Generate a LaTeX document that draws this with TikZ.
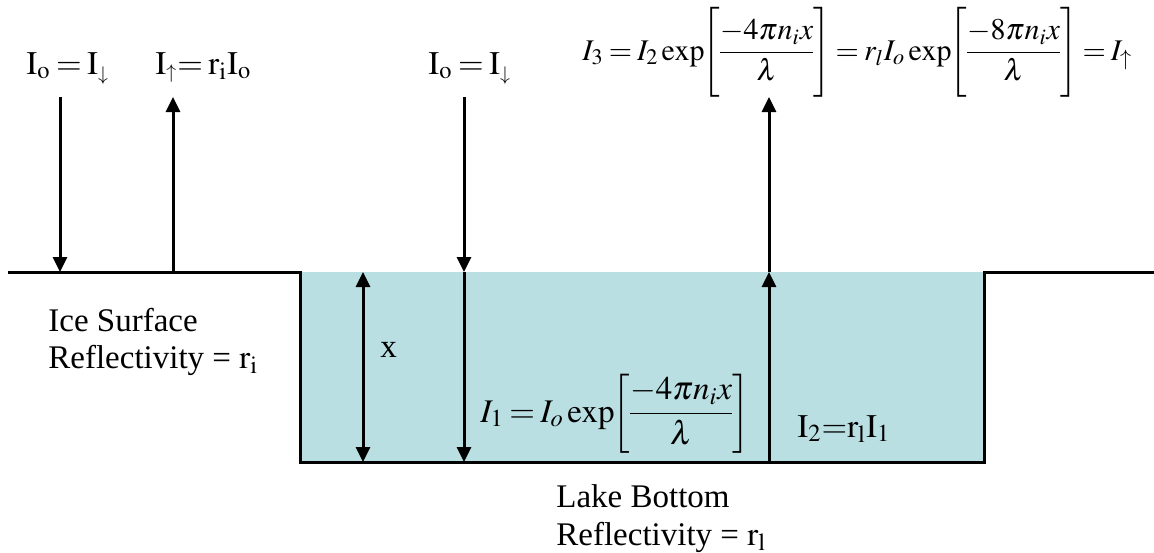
\documentclass[tikz,border=0pt]{standalone}
\usepackage{mathptmx}
\usepackage[no-math]{fontspec}
\setmainfont{Liberation Serif}
\usetikzlibrary{arrows.meta}
\definecolor{lake}{HTML}{B9DFE3}
\newcommand{\bigfr}[2]{\left[\rule[-19pt]{0pt}{44pt}\frac{#1}{#2}\right]}
\newcommand{\mexp}{\mathrm{exp}\mskip-3mu}
\newcommand{\sdn}{{\scriptscriptstyle\downarrow}}
\tikzset{
  wall/.style={line width=1.5pt},
  ray/.style={line width=1.5pt,-{Triangle[width=7pt,length=7.5pt]}},
  dray/.style={line width=1.5pt,{Triangle[width=7pt,length=7.5pt]}-{Triangle[width=7pt,length=7.5pt]}},
  lbl/.style={inner sep=0pt,font=\fontsize{16.5}{20}\selectfont},
}
\begin{document}
\begin{tikzpicture}[x=0.5pt,y=-0.5pt]
\thickmuskip=3mu \medmuskip=2mu \nulldelimiterspace=0pt
\useasboundingbox (0,0) rectangle (1154,552);
% lake fill
\fill[lake] (300,272) rectangle (984,462);
% profile
\coordinate (l0) at (8,272);
\coordinate (l1) at (300,272);
\coordinate (l2) at (300,462);
\coordinate (l3) at (984,462);
\coordinate (l4) at (984,272);
\coordinate (l5) at (1154,272);
\draw[wall,line join=miter] (l0) -- (l1) -- (l2) -- (l3) -- (l4) -- (l5);
% ray coordinates
\coordinate (a1t) at (60,97);   \coordinate (a1b) at (60,272);
\coordinate (a2t) at (173,97);  \coordinate (a2b) at (173,272);
\coordinate (a3t) at (464,97);  \coordinate (a3m) at (464,272); \coordinate (a3b) at (464,462);
\coordinate (xt) at (363,272);  \coordinate (xb) at (363,462);
\coordinate (a4t) at (769,97);  \coordinate (a4m) at (769,272); \coordinate (a4b) at (769,462);
\draw[ray] (a1t) -- (a1b);
\draw[ray] (a2b) -- (a2t);
\draw[ray] (a3t) -- (a3m);
\draw[ray] (a3m) -- (a3b);
\draw[dray] (xt) -- (xb);
\draw[ray] (a4b) -- (a4m);
\draw[ray] (a4m) -- (a4t);
% labels
\node[lbl,anchor=base west] (t1) at (26,74) {$\mathrm{I_o = I}_{\sdn}$};
\node[lbl,anchor=base west] (t2) at (155,74) {$\mathrm{I}_{\scriptscriptstyle\uparrow}\mathrm{ = r_iI_o}$};
\node[lbl,anchor=base west] (t3) at (428,74) {$\mathrm{I_o = I}_{\sdn}$};
\node[lbl,anchor=west,font=\fontsize{15}{18}\selectfont] (t4) at (582,53) {$\displaystyle I_3 = I_2\,\mexp\bigfr{-4\pi n_i x}{\lambda} = r_l I_o \,\mexp\bigfr{-8\pi n_i x}{\lambda} = I_{\uparrow}$};
\node[lbl,anchor=west] (t5) at (480,414) {$\displaystyle I_1 = I_o \,\mexp\left[\rule[-16pt]{0pt}{40pt}\frac{-4\pi n_i x}{\lambda}\right]$};
\node[lbl,anchor=base west] (t6) at (797,437) {$\mathrm{I_2{=}r_lI_1}$};
\node[lbl,anchor=base west] (tx) at (380,357) {x};
\node[lbl,anchor=base west,align=left] (ice) at (48,331) {Ice Surface};
\node[lbl,anchor=base west] (ice2) at (48,368) {Reflectivity = $\mathrm{r_i}$};
\node[lbl,anchor=base west] (lk) at (556,507) {Lake Bottom};
\node[lbl,anchor=base west] (lk2) at (556,545) {Reflectivity = $\mathrm{r_l}$};
\end{tikzpicture}
\end{document}
